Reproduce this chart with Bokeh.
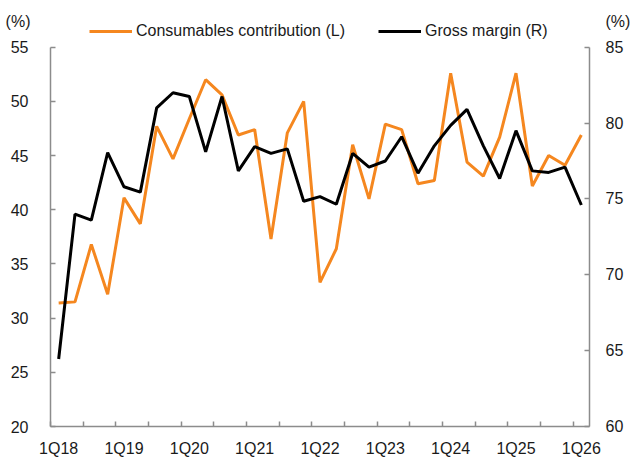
from bokeh.plotting import figure
from bokeh.models import Range1d, LinearAxis, FixedTicker, Legend, LegendItem
from bokeh.embed import file_html
from bokeh.resources import INLINE

# ---- data ----
tick_labels = ["1Q18", "1Q19", "1Q20", "1Q21", "1Q22", "1Q23", "1Q24", "1Q25", "1Q26"]
consumables = [31.4, 31.5, 36.8, 32.2, 41.1, 38.7, 47.7, 44.7, 48.4, 52.0, 50.6,
               46.9, 47.4, 37.3, 47.1, 50.0, 33.3, 36.4, 46.0, 41.0, 47.9, 47.4,
               42.4, 42.7, 52.6, 44.4, 43.1, 46.7, 52.6, 42.2, 45.0, 44.1, 46.9]
gross_margin = [64.45, 74.0, 73.6, 78.05, 75.8, 75.45, 81.0, 82.0, 81.75, 78.1, 81.75,
                76.85, 78.45, 78.0, 78.3, 74.85, 75.15, 74.65, 78.0, 77.1, 77.5, 79.1,
                76.7, 78.5, 79.85, 80.9, 78.5, 76.35, 79.5, 76.85, 76.75, 77.1, 74.6]
left_ticks = [20, 25, 30, 35, 40, 45, 50, 55]
right_ticks = [60, 65, 70, 75, 80, 85]
unit_label = "(%)"

n = len(consumables)
xs = list(range(n))

FONT = "Liberation Sans"
FS = "16px"
TXT = "#1a1a1a"
AX = "#8c8c8c"
ORANGE = "#F5871F"

# frame spans from the top of the figure; axis lines are bounded to the value ranges
L_LO, L_HI, L_TOP = 20, 55, 59.31
R_LO, R_HI, R_TOP = 60, 85, 88.08

p = figure(width=633, height=460, output_backend="svg", toolbar_location=None,
           x_range=Range1d(-0.5, n - 0.5), y_range=Range1d(L_LO, L_TOP),
           min_border_left=50, min_border_right=41, min_border_top=0, min_border_bottom=34)
p.extra_y_ranges = {"right": Range1d(R_LO, R_TOP)}
p.xgrid.visible = False
p.ygrid.visible = False
p.outline_line_color = None
p.background_fill_color = "white"

r1 = p.line(xs, consumables, line_color=ORANGE, line_width=3)
r2 = p.line(xs, gross_margin, line_color="black", line_width=3, y_range_name="right")

label_pos = list(range(0, n, 4))
xax = p.xaxis[0]
xax.ticker = FixedTicker(ticks=label_pos, minor_ticks=[i - 0.5 for i in range(0, n, 2)])
xax.major_label_overrides = {pos: lab for pos, lab in zip(label_pos, tick_labels)}
xax.major_tick_in = 0
xax.major_tick_out = 0
xax.minor_tick_in = 5
xax.minor_tick_out = 0
xax.major_label_standoff = 13

yax = p.yaxis[0]
yax.ticker = FixedTicker(ticks=left_ticks)
yax.bounds = (L_LO, L_HI)
yax.major_label_standoff = 22

# right value axis: line and ticks only (labels drawn by the outer axis below)
rax = LinearAxis(y_range_name="right", ticker=FixedTicker(ticks=right_ticks),
                 bounds=(R_LO, R_HI), major_label_standoff=0,
                 major_label_overrides={t: "" for t in right_ticks})
p.add_layout(rax, "right")

for ax in [yax, rax]:
    ax.major_tick_in = 5
    ax.major_tick_out = 0
    ax.minor_tick_line_color = None

for ax in [xax, yax, rax]:
    ax.axis_line_color = AX
    ax.axis_line_width = 1.5
    ax.major_tick_line_color = AX
    ax.major_tick_line_width = 1.5
    ax.minor_tick_line_width = 1.5
    ax.minor_tick_line_color = AX if ax is xax else None
    ax.major_label_text_font = FONT
    ax.major_label_text_font_size = FS
    ax.major_label_text_color = TXT

# "(%)" unit labels above each value axis (outer axes with no line/ticks)
pct_left_pos = 57.37
pct_right_pos = 86.69
lpct = LinearAxis(ticker=FixedTicker(ticks=[pct_left_pos]),
                  major_label_overrides={pct_left_pos: unit_label}, major_label_standoff=-23)
rlab_overrides = {t: str(t) for t in right_ticks}
rlab_overrides[pct_right_pos] = unit_label
rlab = LinearAxis(y_range_name="right", ticker=FixedTicker(ticks=right_ticks + [pct_right_pos]),
                  major_label_overrides=rlab_overrides, major_label_standoff=16)
for ax in [lpct, rlab]:
    ax.axis_line_color = None
    ax.major_tick_line_color = None
    ax.minor_tick_line_color = None
    ax.major_tick_in = 0
    ax.major_tick_out = 0
    ax.major_label_text_font = FONT
    ax.major_label_text_font_size = FS
    ax.major_label_text_color = TXT
p.add_layout(lpct, "left")
p.add_layout(rlab, "right")

legend = Legend(items=[LegendItem(label="Consumables contribution (L)", renderers=[r1]),
                       LegendItem(label="Gross margin (R)", renderers=[r2])],
                location=(39, 385), orientation="horizontal",
                glyph_width=43, glyph_height=20, label_standoff=4, spacing=33,
                padding=0, margin=0, border_line_alpha=0, background_fill_alpha=0,
                label_text_font=FONT, label_text_font_size=FS, label_text_color=TXT)
p.add_layout(legend, "center")

open("out.html", "w").write(file_html(p, INLINE))
